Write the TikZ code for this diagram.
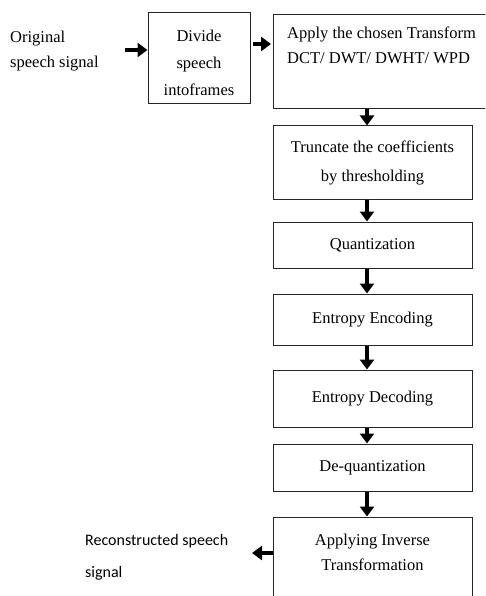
\documentclass[tikz,border=0pt]{standalone}
\usepackage{fontspec}
\setmainfont{Liberation Serif}
\newfontfamily\calfont{Carlito}
\usetikzlibrary{arrows.meta}
\tikzset{
  box/.style={draw=black!85, line width=1pt, inner sep=0pt, align=center,
    font=\fontsize{16.5}{29}\selectfont},
  txt/.style={inner sep=0pt, font=\fontsize{16.5}{25}\selectfont},
  arr/.style={line width=3.2pt, -{Triangle[width=14pt,length=10pt]}}
}
\begin{document}
\begin{tikzpicture}[x=1pt,y=-1pt]
\useasboundingbox (0,0) rectangle (485,596);
\clip (0,0) rectangle (485,596);
% boxes
\node[box, minimum width=102pt, minimum height=91pt] (divide) at (199,58.5) {};
\node[box, minimum width=222pt, minimum height=94pt] (apply) at (384,62) {};
\node[box, minimum width=199pt, minimum height=73pt] (trunc) at (372.5,162.5)
  {Truncate the coefficients\\by thresholding};
\node[box, minimum width=199pt, minimum height=46pt] (quant) at (372.5,245) {Quantization};
\node[box, minimum width=199pt, minimum height=51pt] (enc) at (372.5,319.5) {Entropy Encoding};
\node[box, minimum width=199pt, minimum height=57pt] (dec) at (372.5,398.5) {Entropy Decoding};
\node[box, minimum width=199pt, minimum height=47pt] (deq) at (372.5,467.5) {De-quantization};
\node[box, minimum width=199pt, minimum height=103pt] (inv) at (372.5,568.5) {};
% texts
\node[txt, align=center, font=\fontsize{16.5}{27}\selectfont] (tdiv) at (199,62.4)
  {Divide\\speech\\intoframes};
\node[txt, align=left, anchor=west] (tapp) at (287,45)
  {Apply the chosen Transform\\DCT/ DWT/ DWHT/ WPD};
\node[txt, align=center] (tinv) at (372.5,552) {Applying Inverse\\Transformation};
\node[txt, align=left, anchor=west] (orig) at (10,50.7) {Original\\speech signal};
\node[inner sep=0pt, align=left, anchor=west, font=\calfont\fontsize{16}{32}\selectfont]
  (recon) at (85,557) {Reconstructed speech\\signal};
% connectors
\coordinate (a0) at (125,50);
\coordinate (y44) at (0,44);
\coordinate (ax) at (367,0);
\coordinate (rend) at (252,553);
\draw[arr] (a0) -- (divide.west |- a0);
\draw[arr, shorten <=2pt, shorten >=1.5pt] (divide.east |- y44) -- (apply.west |- y44);
\draw[arr] (apply.south -| ax) -- (trunc.north -| ax);
\draw[arr] (trunc.south -| ax) -- (quant.north -| ax);
\draw[arr] (quant.south -| ax) -- (enc.north -| ax);
\draw[arr] (enc.south -| ax) -- (dec.north -| ax);
\draw[arr] (dec.south -| ax) -- (deq.north -| ax);
\draw[arr] (deq.south -| ax) -- (inv.north -| ax);
\draw[arr] (inv.west |- rend) -- (rend);
\end{tikzpicture}
\end{document}
